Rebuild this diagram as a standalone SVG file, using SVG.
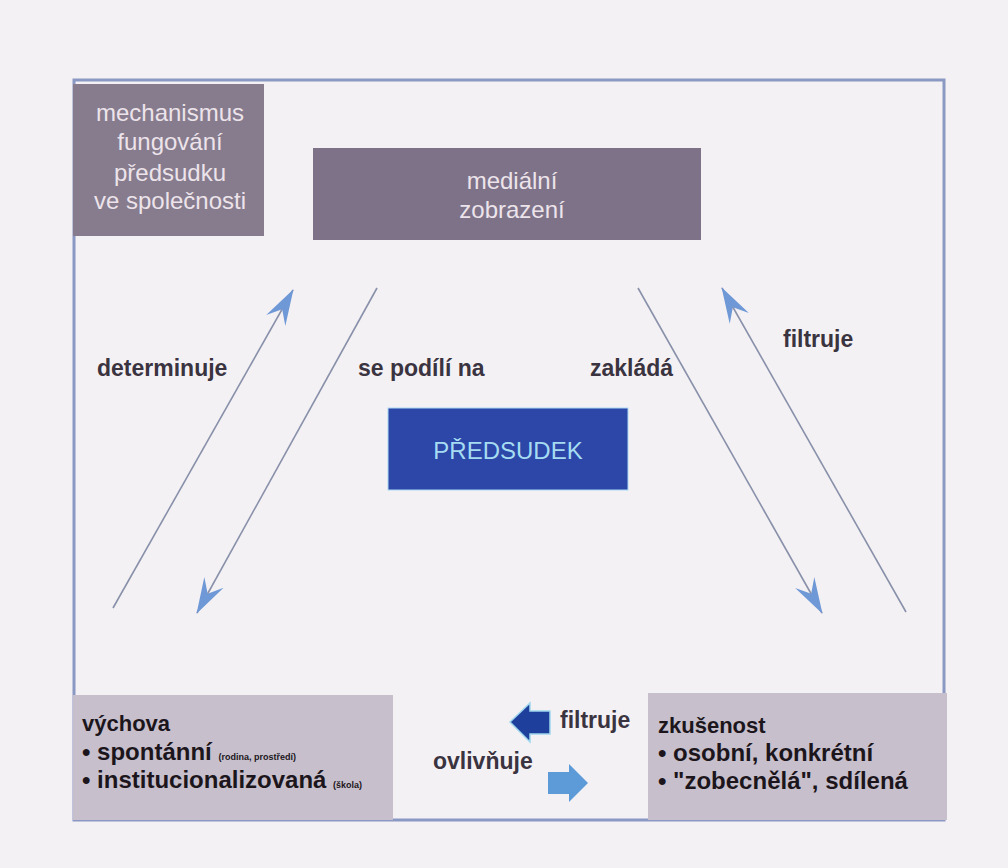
<svg xmlns="http://www.w3.org/2000/svg" width="1008" height="868" viewBox="0 0 1008 868">
<defs>
<style>
.lbl{font-family:"Liberation Sans",Arial,sans-serif;font-weight:bold;font-size:23px;fill:#3a3340}
.boxt{font-family:"Liberation Sans",Arial,sans-serif;font-size:24px;fill:#ece4ea;text-anchor:middle}
.bt{font-family:"Liberation Sans",Arial,sans-serif;font-weight:bold;font-size:22px;fill:#1c161c}
.bl{font-size:24px}
.sm{font-size:9px}
.conn{stroke:#8890aa;stroke-width:1.6;fill:none}
</style>
<marker id="ah" markerWidth="36" markerHeight="26" viewBox="0 0 36 26" refX="35" refY="13" orient="auto" markerUnits="userSpaceOnUse">
<path d="M36,13 L0,2 L13,13 L0,24 Z" fill="#6f98d6"/>
</marker>
</defs>
<rect x="0" y="0" width="1008" height="868" fill="#f4f1f4"/>
<rect id="frame" x="74" y="80" width="870" height="740" fill="none" stroke="#8a98c4" stroke-width="3"/>

<g id="connectors">
<line class="conn" x1="113" y1="608" x2="293" y2="290" marker-end="url(#ah)"/>
<line class="conn" x1="377" y1="288" x2="197" y2="613" marker-end="url(#ah)"/>
<line class="conn" x1="638" y1="288" x2="822" y2="613" marker-end="url(#ah)"/>
<line class="conn" x1="906" y1="612" x2="722" y2="288" marker-end="url(#ah)"/>
<polygon points="510,722 530,703 530,711 550,711 550,734 530,734 530,742" fill="#1f3f9c" stroke="#9fd6ee" stroke-width="1.5"/>
<polygon points="548,772 569,772 569,764 588,783 569,802 569,794 548,794" fill="#5c9bd8"/>
</g>

<g id="mechanismus">
<rect x="73" y="84" width="191" height="152" fill="#877b8e"/>
<text class="boxt" x="170" y="121">mechanismus</text>
<text class="boxt" x="170" y="150">fungování</text>
<text class="boxt" x="170" y="181">předsudku</text>
<text class="boxt" x="170" y="209">ve společnosti</text>
</g>

<g id="medialni">
<rect x="313" y="148" width="388" height="92" fill="#7e7289"/>
<text class="boxt" x="512" y="189">mediální</text>
<text class="boxt" x="512" y="218">zobrazení</text>
</g>

<g id="predsudek">
<rect x="388" y="408" width="240" height="82" fill="#2c47a8" stroke="#a9d9f2" stroke-width="1"/>
<text x="508" y="459" style="font-family:'Liberation Sans',Arial,sans-serif;font-size:24px;fill:#a6dcf2;text-anchor:middle">PŘEDSUDEK</text>
</g>

<g id="vychova">
<rect x="73" y="695" width="320" height="125" fill="#c7c0cc"/>
<text class="bt" x="82" y="731">výchova</text>
<text class="bt bl" x="82" y="760">• spontánní <tspan class="sm">(rodina, prostředí)</tspan></text>
<text class="bt bl" x="82" y="788">• institucionalizovaná <tspan class="sm">(škola)</tspan></text>
</g>

<g id="zkusenost">
<rect x="648" y="693" width="299" height="127" fill="#c7c0cc"/>
<text class="bt" x="658" y="733">zkušenost</text>
<text class="bt bl" x="658" y="761">• osobní, konkrétní</text>
<text class="bt bl" x="658" y="789">• "zobecnělá", sdílená</text>
</g>

<g id="labels">
<text class="lbl" x="97" y="376">determinuje</text>
<text class="lbl" x="358" y="376">se podílí na</text>
<text class="lbl" x="590" y="376">zakládá</text>
<text class="lbl" x="783" y="347">filtruje</text>
<text class="lbl" x="560" y="728">filtruje</text>
<text class="lbl" x="433" y="769">ovlivňuje</text>
</g>
</svg>
